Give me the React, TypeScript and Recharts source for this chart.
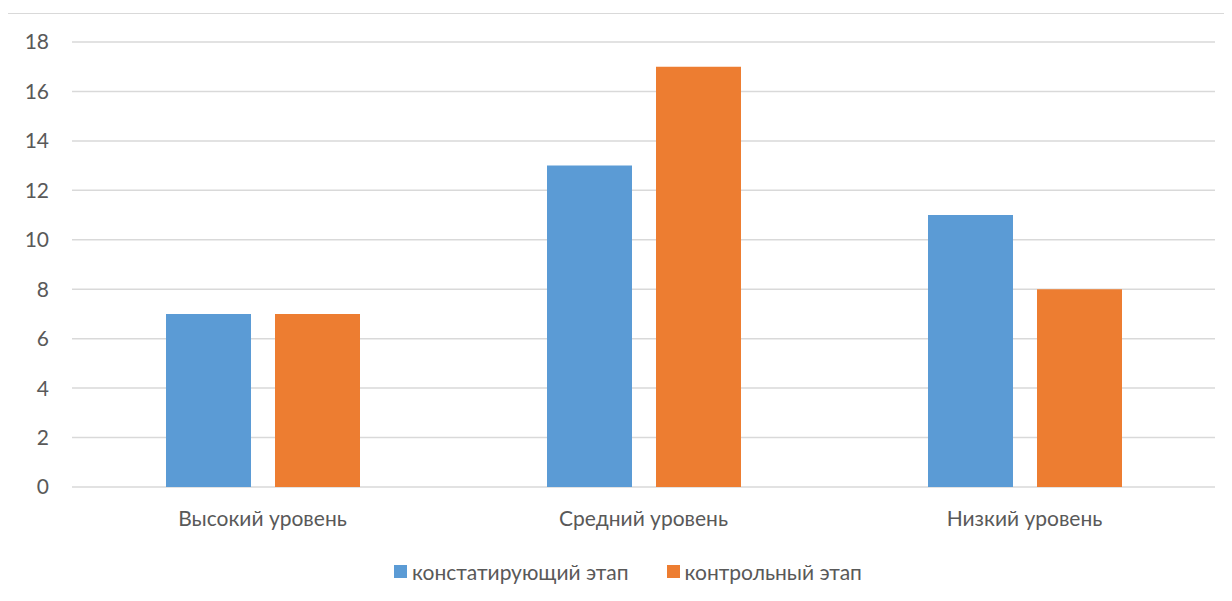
import React from 'react';
import { BarChart, Bar, XAxis, YAxis, CartesianGrid } from 'recharts';

const levels = ['Высокий уровень', 'Средний уровень', 'Низкий уровень'];
const ascertaining = [7, 13, 11];
const control = [7, 17, 8];
const yTicks = [0, 2, 4, 6, 8, 10, 12, 14, 16, 18];

const series = [
  { key: 'ascertaining', name: 'констатирующий этап', color: '#5B9BD5' },
  { key: 'control', name: 'контрольный этап', color: '#ED7D31' },
];

const data = levels.map((level, i) => ({
  level,
  ascertaining: ascertaining[i],
  control: control[i],
}));

const font = 'Lato, "Open Sans", sans-serif';

const LegendRow = () => (
  <div
    style={{
      position: 'absolute',
      top: 545,
      left: 0,
      width: 1240,
      display: 'flex',
      justifyContent: 'center',
      gap: 38,
      fontFamily: font,
      fontSize: 21,
      color: '#595959',
    }}
  >
    {series.map((s) => (
      <div key={s.key} style={{ display: 'flex', alignItems: 'center', gap: 5 }}>
        <span style={{ width: 13, height: 13, background: s.color, display: 'inline-block' }} />
        <span>{s.name}</span>
      </div>
    ))}
  </div>
);

export default function App() {
  return (
    <div
      style={{
        position: 'relative',
        marginLeft: -1,
        marginTop: 5,
        width: 1240,
        height: 600,
        border: '1px solid #d9d9d9',
        background: '#fff',
      }}
    >
      <BarChart
        width={1240}
        height={600}
        data={data}
        margin={{ top: 28, right: 33, left: 0, bottom: 77 }}
        barSize={85}
        barGap={24}
      >
        <CartesianGrid vertical={false} stroke="#d9d9d9" strokeWidth={1.5} />
        <XAxis
          dataKey="level"
          axisLine={false}
          tickLine={false}
          height={50}
          tickMargin={18}
          tick={{ fontSize: 21, fill: '#595959', fontFamily: font }}
        />
        <YAxis
          width={64}
          domain={[0, 18]}
          ticks={yTicks}
          axisLine={false}
          tickLine={false}
          tickSize={0}
          tickMargin={23}
          tick={{ fontSize: 21, fill: '#595959', fontFamily: font }}
        />
        {series.map((s) => (
          <Bar key={s.key} dataKey={s.key} name={s.name} fill={s.color} isAnimationActive={false} />
        ))}
      </BarChart>
      <LegendRow />
    </div>
  );
}
